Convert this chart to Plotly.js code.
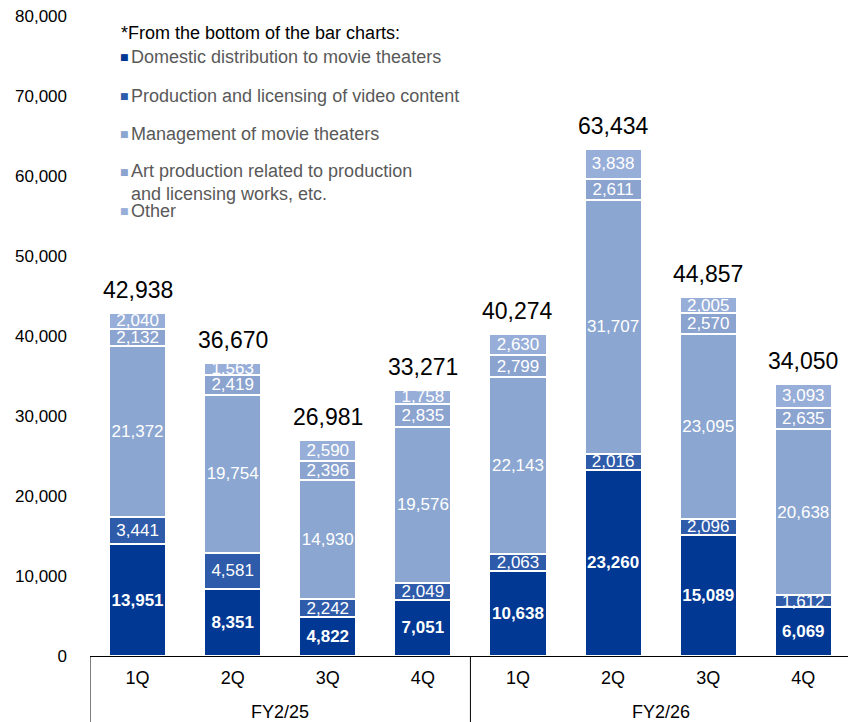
<!DOCTYPE html>
<html>
<head>
<meta charset="utf-8">
<script src="https://cdn.plot.ly/plotly-3.0.1.min.js"></script>
<style>html,body{margin:0;padding:0;background:#fff;}#chart{width:848px;height:722px;}</style>
</head>
<body>
<div id="chart"></div>
<script>
// ---- data ----
const fiscalYears = ["FY2/25","FY2/25","FY2/25","FY2/25","FY2/26","FY2/26","FY2/26","FY2/26"];
const quarters = ["1Q","2Q","3Q","4Q","1Q","2Q","3Q","4Q"];
const domestic = [13951, 8351, 4822, 7051, 10638, 23260, 15089, 6069];
const production = [3441, 4581, 2242, 2049, 2063, 2016, 2096, 1612];
const management = [21372, 19754, 14930, 19576, 22143, 31707, 23095, 20638];
const artProduction = [2132, 2419, 2396, 2835, 2799, 2611, 2570, 2635];
const other = [2040, 1563, 2590, 1758, 2630, 3838, 2005, 3093];
const totals = [42938, 36670, 26981, 33271, 40274, 63434, 44857, 34050];
const seriesNames = [
  "Domestic distribution to movie theaters",
  "Production and licensing of video content",
  "Management of movie theaters",
  "Art production related to production<br>and licensing works, etc.",
  "Other"
];
const yTicks = [0,10000,20000,30000,40000,50000,60000,70000,80000];

// ---- styles ----
const FONT = "Arial, 'Liberation Sans', sans-serif";
const colors = ["#003893", "#2E5BAA", "#8BA6D0", "#8BA3CF", "#97AED8"];
const seriesData = [domestic, production, management, artProduction, other];
const xKeys = fiscalYears.map((f,i)=> f + " " + quarters[i]);

const traces = seriesData.map((vals, k) => ({
  type: "bar",
  name: seriesNames[k],
  x: xKeys,
  y: vals,
  width: 0.6,
  marker: {color: colors[k], line: {color: "#ffffff", width: 2}},
  text: vals.map(v => v.toLocaleString("en-US")),
  texttemplate: "%{text}",
  textposition: "inside",
  insidetextanchor: "middle",
  constraintext: "none",
  textangle: 0,
  textfont: {family: FONT, size: 17, color: "#ffffff", weight: k === 0 ? "bold" : "normal"},
  hoverinfo: "name+y",
  showlegend: false
}));

const annotations = [];
// totals
totals.forEach((t,i) => {
  annotations.push({
    x: xKeys[i], y: t, xref: "x", yref: "y",
    text: t.toLocaleString("en-US"), showarrow: false,
    yanchor: "bottom", yshift: 8,
    font: {family: FONT, size: 23, color: "#000000"}
  });
});
// fiscal year group labels
const groups = [...new Set(fiscalYears)];
groups.forEach(g => {
  const idx = fiscalYears.map((f,i)=> f===g ? i : -1).filter(i=>i>=0);
  const mid = (idx[0] + idx[idx.length-1]) / 2;
  annotations.push({
    x: mid, y: 0, xref: "x", yref: "paper",
    yanchor: "middle", yshift: -56,
    text: g, showarrow: false,
    font: {family: FONT, size: 18, color: "#000000"}
  });
});
// legend-like annotations
const plotL = 90, plotW = 758, plotB = 656, plotH = 640;
const px = x => (x - plotL) / plotW;
const py = y => (plotB - y) / plotH;
annotations.push({
  xref: "paper", yref: "paper", x: px(119), y: py(33),
  xanchor: "left", yanchor: "middle", showarrow: false,
  text: "*From the bottom of the bar charts:",
  font: {family: FONT, size: 18, color: "#000000"}
});
const legendY = [57, 96, 134, 182, 211];
seriesNames.forEach((n,k) => {
  annotations.push({
    xref: "paper", yref: "paper", x: px(124), y: py(k===3 ? 172 : legendY[k]),
    xanchor: "center", yanchor: "middle", showarrow: false,
    text: "■", font: {family: "DejaVu Sans", size: 9, color: colors[k]}
  });
  annotations.push({
    xref: "paper", yref: "paper", x: px(129), y: py(legendY[k]),
    xanchor: "left", yanchor: "middle", align: "left", showarrow: false,
    text: n, font: {family: FONT, size: 18, color: "#595959"}
  });
});

const shapes = [-0.5, 3.5].map(xv => ({
  type: "line", xref: "x", yref: "paper",
  x0: xv, x1: xv, y0: 0, y1: -66/640,
  line: {color: "#000000", width: 1}
}));

const layout = {
  width: 848, height: 722,
  margin: {l: 90, r: 0, t: 16, b: 66},
  paper_bgcolor: "#ffffff", plot_bgcolor: "#ffffff",
  barmode: "stack",
  showlegend: false,
  font: {family: FONT, color: "#000000"},
  xaxis: {
    type: "category",
    tickvals: xKeys, ticktext: quarters,
    range: [-0.5, 7.47],
    showline: true, linecolor: "#000000", linewidth: 1,
    showgrid: false, ticks: "", zeroline: false,
    tickfont: {family: FONT, size: 18, color: "#000000"},
    ticklabelstandoff: 5
  },
  yaxis: {
    range: [0, 80000],
    tickvals: yTicks,
    tickformat: ",d",
    showgrid: false, zeroline: false, showline: false, ticks: "",
    tickfont: {family: FONT, size: 17, color: "#000000"},
    ticklabelstandoff: 22
  },
  annotations: annotations,
  shapes: shapes
};

Plotly.newPlot("chart", traces, layout, {displayModeBar: false, staticPlot: true});
</script>
</body>
</html>
